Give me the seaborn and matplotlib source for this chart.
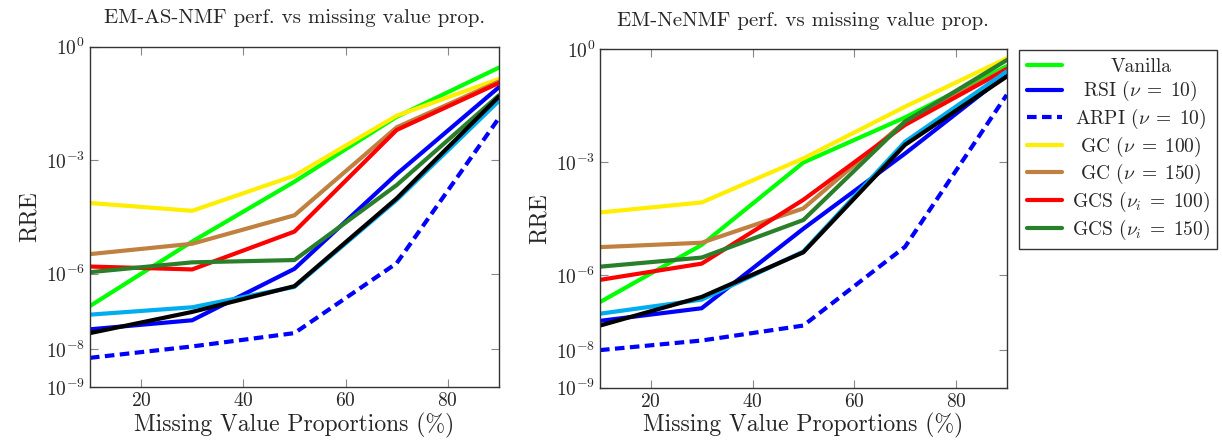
import numpy as np
import pandas as pd
import matplotlib
matplotlib.use("Agg")
import matplotlib.pyplot as plt
import matplotlib.ticker as mticker
import seaborn as sns

# Missing value proportions (%)
props = [10, 30, 50, 70, 90]

methods = ['Vanilla', r'RSI ($\nu\;=\;10$)', r'ARPI ($\nu\;=\;10$)', r'GC ($\nu\;=\;100$)',
           r'GC ($\nu\;=\;150$)', r'GCS ($\nu_i\;=\;100$)', r'GCS ($\nu_i\;=\;150$)']

# EM-AS-NMF RRE values
as_vanilla = [1.4e-7, 7.1e-6, 2.7e-4, 1.4e-2, 0.28]
as_rsi = [3.4e-8, 5.9e-8, 1.35e-6, 4.3e-4, 8.5e-2]
as_arpi = [6.0e-9, 1.2e-8, 2.7e-8, 1.9e-6, 1.3e-2]
as_gc100 = [7.4e-5, 4.6e-5, 3.9e-4, 1.5e-2, 0.14]
as_gc150 = [3.3e-6, 6.2e-6, 3.5e-5, 7.4e-3, 0.12]
as_gcs100 = [1.55e-6, 1.3e-6, 1.3e-5, 6.3e-3, 0.11]
as_gcs150 = [1.1e-6, 2.0e-6, 2.3e-6, 2.2e-4, 5.2e-2]
as_cyan = [8.3e-8, 1.3e-7, 4.5e-7, 8.9e-5, 3.7e-2]
as_black = [2.7e-8, 9.8e-8, 4.7e-7, 9.8e-5, 4.8e-2]

# EM-NeNMF RRE values
ne_vanilla = [1.9e-7, 6.3e-6, 9.8e-4, 1.55e-2, 0.36]
ne_rsi = [6.0e-8, 1.3e-7, 1.7e-5, 1.7e-3, 0.22]
ne_arpi = [1.0e-8, 1.8e-8, 4.5e-8, 5.6e-6, 6.2e-2]
ne_gc100 = [4.6e-5, 8.5e-5, 1.26e-3, 3.0e-2, 0.58]
ne_gc150 = [5.5e-6, 7.2e-6, 5.9e-5, 1.2e-2, 0.31]
ne_gcs100 = [7.4e-7, 2.0e-6, 1.0e-4, 9.8e-3, 0.30]
ne_gcs150 = [1.66e-6, 2.9e-6, 2.9e-5, 1.2e-2, 0.52]
ne_cyan = [9.3e-8, 2.2e-7, 4.2e-6, 3.5e-3, 0.26]
ne_black = [4.5e-8, 2.6e-7, 4.0e-6, 2.9e-3, 0.19]

colors = ['#00ff00', '#0000ff', '#0000ff', '#ffee00', '#c08040', '#ff0000', '#2a7f2a']
extra_colors = ['#00aeef', '#000000']

sns.set_style('ticks')
plt.rcParams['font.family'] = 'serif'
plt.rcParams['font.serif'] = ['cmr10', 'DejaVu Serif']
plt.rcParams['mathtext.fontset'] = 'cm'
plt.rcParams['axes.formatter.use_mathtext'] = True
plt.rcParams['axes.unicode_minus'] = False

fig = plt.figure(figsize=(12.22, 4.47), dpi=100)
ax1 = fig.add_axes([0.0736, 0.1336, 0.3347, 0.762])
ax2 = fig.add_axes([0.4910, 0.1327, 0.3328, 0.7566])

panels = [
    (ax1, 'EM-AS-NMF perf. vs missing value prop.',
     [as_vanilla, as_rsi, as_arpi, as_gc100, as_gc150, as_gcs100, as_gcs150], [as_cyan, as_black]),
    (ax2, 'EM-NeNMF perf. vs missing value prop.',
     [ne_vanilla, ne_rsi, ne_arpi, ne_gc100, ne_gc150, ne_gcs100, ne_gcs150], [ne_cyan, ne_black]),
]

for ax, title, series, extra in panels:
    for name, vals, col in zip(methods, series, colors):
        ls = (0, (2.3, 1.3)) if name.startswith('ARPI') else '-'
        sns.lineplot(x=props, y=vals, ax=ax, color=col, lw=3, linestyle=ls, label=name)
    for vals, col in zip(extra, extra_colors):
        sns.lineplot(x=props, y=vals, ax=ax, color=col, lw=3)
    ax.set_yscale('log')
    ax.set_xlim(10, 90)
    ax.set_ylim(1e-9, 1)
    ax.set_xticks([20, 40, 60, 80])
    ax.yaxis.set_major_locator(mticker.FixedLocator([1, 1e-3, 1e-6, 1e-8, 1e-9]))
    ax.yaxis.set_minor_locator(mticker.NullLocator())
    ax.tick_params(direction='in', top=True, right=True, labelsize=14, length=6, color='#888888')
    ax.set_title(title, fontsize=15, pad=17)
    ax.set_xlabel('Missing Value Proportions (%)', fontsize=17, labelpad=2)
    ax.set_ylabel('RRE', fontsize=17, labelpad=4)
    for sp in ax.spines.values():
        sp.set_color('#333333')
        sp.set_linewidth(1.0)
    if ax.get_legend() is not None:
        ax.get_legend().remove()

handles, labels = ax1.get_legend_handles_labels()
leg = fig.legend(handles[:7], labels[:7], loc='upper left', bbox_to_anchor=(0.834, 0.888),
                 fontsize=14, frameon=True, fancybox=False, edgecolor='black',
                 handlelength=1.8, handletextpad=0.5, labelspacing=0.18, borderpad=0.4,
                 borderaxespad=0)
leg.get_frame().set_linewidth(1.0)

# centre the legend entries like the pgfplots legend
fig.canvas.draw()
renderer = fig.canvas.get_renderer()
widths = [t.get_window_extent(renderer).width for t in leg.get_texts()]
maxw = max(widths)
for t, w in zip(leg.get_texts(), widths):
    t.set_x((maxw - w) / 2)

fig.savefig('out.png', dpi=100)
